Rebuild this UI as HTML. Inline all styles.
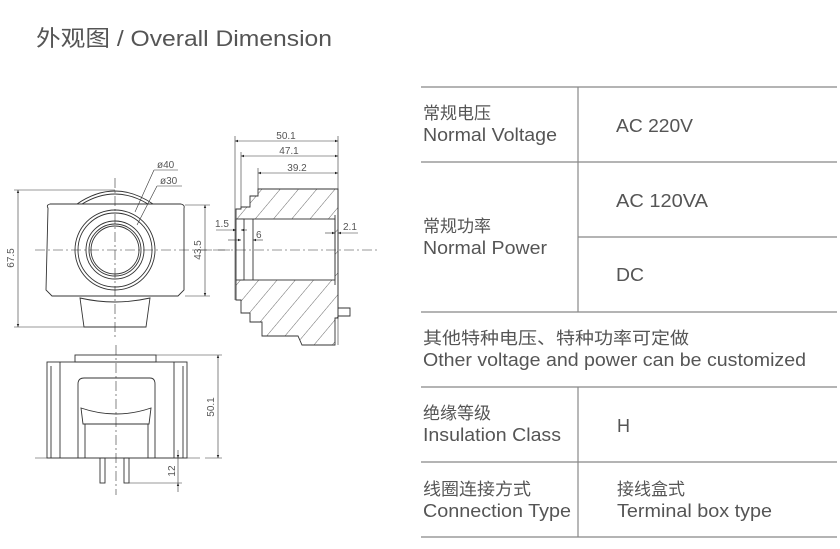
<!DOCTYPE html>
<html><head><meta charset="utf-8"><style>
html,body{margin:0;padding:0;background:#fff;width:840px;height:549px;overflow:hidden}
svg{display:block}
text{font-family:"Liberation Sans","Noto Sans CJK SC",sans-serif;fill:#555}
.d{font-size:10px;fill:#333}
.t{font-size:18px;fill:#5a5a5a}
.c{font-size:17px}
</style></head><body>
<svg width="840" height="549" viewBox="0 0 840 549" xmlns="http://www.w3.org/2000/svg">
<defs>
<pattern id="h" width="14" height="14" patternUnits="userSpaceOnUse" patternTransform="rotate(40)">
<line x1="0" y1="0" x2="0" y2="14" stroke="#444" stroke-width="0.8"/></pattern>
<marker id="a" markerWidth="6" markerHeight="6" refX="5" refY="3" orient="auto-start-reverse"><path d="M0,1 L5,3 L0,5z" fill="#222"/></marker>
</defs>
<text x="36" y="46" style="font-size:22px;fill:#555" textLength="296" lengthAdjust="spacingAndGlyphs">外观图 / Overall Dimension</text>

<g fill="none" stroke="#333" stroke-width="0.9">
<path d="M77,204 Q115,178 153,204"/>
<path d="M82,204 Q115,184 148,204"/>
<path d="M48,208 Q46,205 50,204 L181,204 Q185,205 184,208 L184,290 L178,296 L52,296 L46,290 Z"/>
<circle cx="115" cy="250" r="40"/><circle cx="115" cy="250" r="37"/>
<circle cx="115" cy="250" r="29"/><circle cx="115" cy="250" r="26"/><circle cx="115" cy="250" r="24"/>
<path d="M80,298 L84,327 L146,327 L150,298 Q115,306 80,298Z"/>
<g stroke-width="0.6">
<line x1="35" y1="250" x2="232" y2="250" stroke-dasharray="10,3,2,3"/>
<line x1="115" y1="178" x2="115" y2="338" stroke-dasharray="10,3,2,3"/>
<line x1="14" y1="190" x2="115" y2="190"/><line x1="14" y1="327" x2="84" y2="327"/>
<line x1="18" y1="190" x2="18" y2="327" marker-start="url(#a)" marker-end="url(#a)"/>
<line x1="185" y1="205" x2="210" y2="205"/><line x1="185" y1="296" x2="210" y2="296"/>
<line x1="205" y1="205" x2="205" y2="296" marker-start="url(#a)" marker-end="url(#a)"/>
<line x1="135" y1="212" x2="154" y2="170"/><line x1="154" y1="170" x2="178" y2="170"/>
<line x1="137" y1="225" x2="157" y2="186"/><line x1="157" y1="186" x2="182" y2="186"/>
</g>
<path d="M258,189 L338,189 L338,318 L335,318 L335,345 L302,345 L298,336 L262,336 L262,322 L250,322 L250,313 L241,313 L241,300 L236,300 L236,209 L241,209 L241,207 L250,207 L250,196 L258,196 Z" fill="url(#h)"/>
<rect x="241" y="219" width="94" height="61" fill="#fff"/>
<rect x="236" y="219" width="8" height="61" fill="#fff"/>
<line x1="253" y1="219" x2="253" y2="280"/>
<line x1="335" y1="215" x2="335" y2="285"/>
<path d="M338,308 L350,308 L350,316 L338,316"/>
<g stroke-width="0.6">
<line x1="200" y1="250" x2="380" y2="250" stroke-dasharray="10,3,2,3"/>
<line x1="235" y1="136" x2="235" y2="300"/><line x1="241" y1="152" x2="241" y2="207"/>
<line x1="258" y1="168" x2="258" y2="189"/><line x1="338" y1="136" x2="338" y2="345"/>
<line x1="235" y1="141" x2="338" y2="141" marker-start="url(#a)" marker-end="url(#a)"/>
<line x1="241" y1="156" x2="338" y2="156" marker-start="url(#a)" marker-end="url(#a)"/>
<line x1="258" y1="173" x2="338" y2="173" marker-start="url(#a)" marker-end="url(#a)"/>
<line x1="216" y1="230" x2="236" y2="230" marker-end="url(#a)"/><line x1="241" y1="230" x2="247" y2="230" marker-start="url(#a)"/>
<line x1="228" y1="240" x2="241" y2="240" marker-end="url(#a)"/><line x1="253" y1="240" x2="263" y2="240" marker-start="url(#a)"/>
<line x1="325" y1="233" x2="335" y2="233" marker-end="url(#a)"/><line x1="338" y1="233" x2="358" y2="233" marker-start="url(#a)"/>
</g>
<rect x="75" y="355" width="81" height="7"/>
<rect x="47" y="362" width="140" height="96"/>
<line x1="60" y1="362" x2="60" y2="458"/><line x1="174" y1="362" x2="174" y2="458"/>
<line x1="51" y1="366" x2="51" y2="458"/><line x1="183" y1="366" x2="183" y2="458"/>
<path d="M78,458 L78,384 Q78,378 84,378 L150,378 Q155,378 155,384 L155,458"/>
<path d="M81,408 Q116,420 151,408 L149,424 L83,424 Z"/>
<line x1="85" y1="424" x2="85" y2="458"/><line x1="148" y1="424" x2="148" y2="458"/>
<rect x="100" y="458" width="5" height="25"/><rect x="124" y="458" width="5" height="25"/>
<g stroke-width="0.6">
<line x1="35" y1="458" x2="200" y2="458"/>
<line x1="116" y1="345" x2="116" y2="495" stroke-dasharray="10,3,2,3"/>
<line x1="156" y1="355" x2="222" y2="355"/><line x1="205" y1="458" x2="222" y2="458"/>
<line x1="218" y1="355" x2="218" y2="458" marker-start="url(#a)" marker-end="url(#a)"/>
<line x1="129" y1="483" x2="182" y2="483"/>
<line x1="178" y1="450" x2="178" y2="458" marker-end="url(#a)"/><line x1="178" y1="483" x2="178" y2="492" marker-start="url(#a)"/>
<line x1="178" y1="458" x2="178" y2="483"/>
</g>
</g>
<g class="d">
<text x="157" y="168">ø40</text><text x="160" y="184">ø30</text>
<text x="14" y="258" transform="rotate(-90 14 258)" text-anchor="middle">67.5</text>
<text x="201" y="250" transform="rotate(-90 201 250)" text-anchor="middle">43.5</text>
<text x="286" y="139" text-anchor="middle">50.1</text>
<text x="289" y="154" text-anchor="middle">47.1</text>
<text x="297" y="171" text-anchor="middle">39.2</text>
<text x="215" y="227">1.5</text><text x="256" y="238">6</text><text x="343" y="230">2.1</text>
<text x="214" y="407" transform="rotate(-90 214 407)" text-anchor="middle">50.1</text>
<text x="175" y="471" transform="rotate(-90 175 471)" text-anchor="middle">12</text>
</g>

<g stroke="#888" stroke-width="1.2">
<line x1="421" y1="87" x2="837" y2="87"/><line x1="421" y1="162" x2="837" y2="162"/>
<line x1="578" y1="237" x2="837" y2="237"/><line x1="421" y1="312" x2="837" y2="312"/>
<line x1="421" y1="387" x2="837" y2="387"/><line x1="421" y1="462" x2="837" y2="462"/>
<line x1="421" y1="537" x2="837" y2="537"/>
<line x1="578" y1="87" x2="578" y2="312"/><line x1="578" y1="387" x2="578" y2="537"/>
</g>
<g class="t">
<text class="c" x="423" y="119">常规电压</text><text x="423" y="141" textLength="134" lengthAdjust="spacingAndGlyphs">Normal Voltage</text>
<text x="616" y="132" textLength="77" lengthAdjust="spacingAndGlyphs">AC 220V</text>
<text class="c" x="423" y="232">常规功率</text><text x="423" y="254" textLength="124" lengthAdjust="spacingAndGlyphs">Normal Power</text>
<text x="616" y="207" textLength="92" lengthAdjust="spacingAndGlyphs">AC 120VA</text>
<text x="616" y="281" textLength="28" lengthAdjust="spacingAndGlyphs">DC</text>
<text class="c" x="423" y="344" textLength="266" lengthAdjust="spacingAndGlyphs">其他特种电压、特种功率可定做</text>
<text x="423" y="366" textLength="383" lengthAdjust="spacingAndGlyphs">Other voltage and power can be customized</text>
<text class="c" x="423" y="419">绝缘等级</text><text x="423" y="441" textLength="138" lengthAdjust="spacingAndGlyphs">Insulation Class</text>
<text x="617" y="432">H</text>
<text class="c" x="423" y="495" textLength="108" lengthAdjust="spacingAndGlyphs">线圈连接方式</text><text x="423" y="517" textLength="148" lengthAdjust="spacingAndGlyphs">Connection Type</text>
<text class="c" x="617" y="495">接线盒式</text><text x="617" y="517" textLength="155" lengthAdjust="spacingAndGlyphs">Terminal box type</text>
</g>
</svg>
</body></html>
